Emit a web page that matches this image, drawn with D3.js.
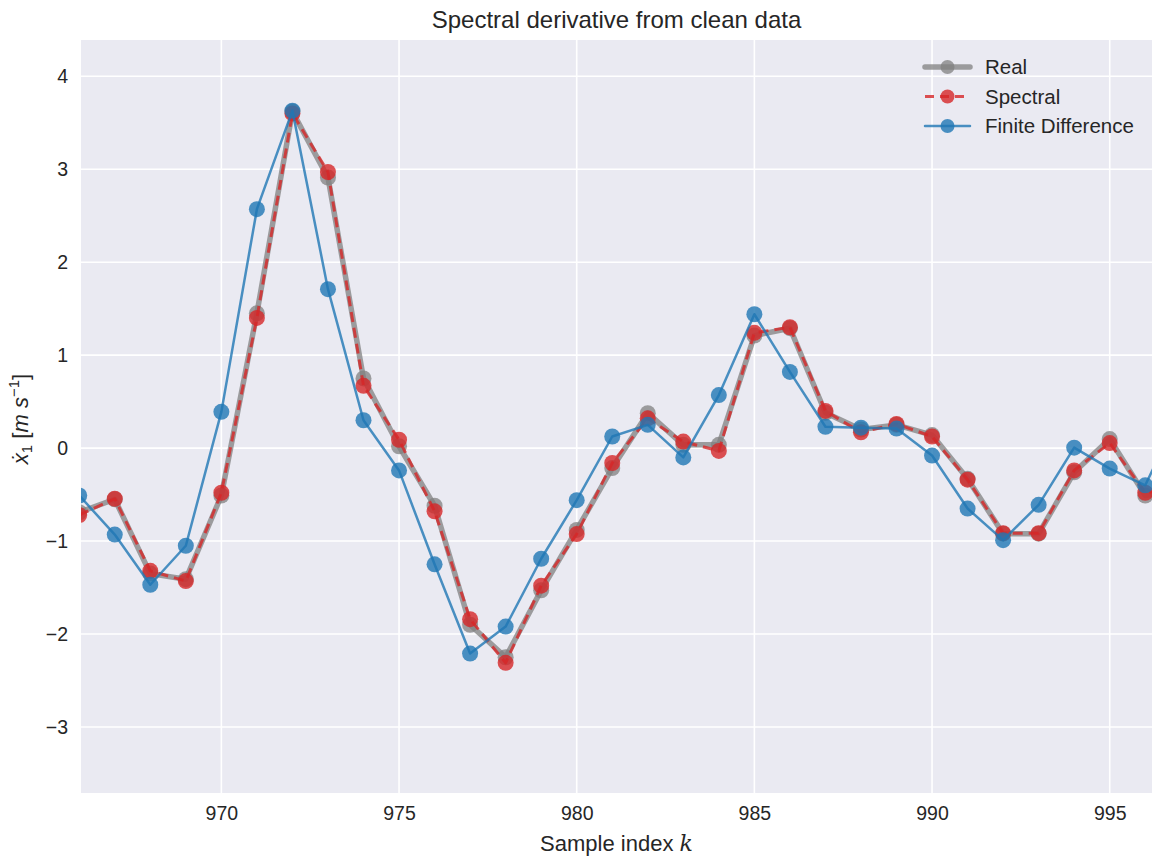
<!DOCTYPE html>
<html>
<head>
<meta charset="utf-8">
<script src="https://cdn.jsdelivr.net/npm/d3@7"></script>
<style>
  body { margin: 0; background: #fff; }
  text { font-family: "Liberation Sans", Arial, sans-serif; fill: #262626; }
</style>
</head>
<body>
<svg id="chart" width="1152" height="857"></svg>
<script>
const samples = d3.range(966, 998);
const realValues = [-0.69, -0.55, -1.35, -1.41, -0.51, 1.45, 3.62, 2.91, 0.75, 0.02,
  -0.62, -1.90, -2.25, -1.53, -0.88, -0.215, 0.376, 0.035, 0.035, 1.21,
  1.29, 0.38, 0.20, 0.25, 0.14, -0.33, -0.92, -0.92, -0.26, 0.097, -0.51, -0.45];
const spectralValues = [-0.72, -0.545, -1.32, -1.43, -0.48, 1.40, 3.60, 2.97, 0.67, 0.09,
  -0.68, -1.84, -2.31, -1.48, -0.925, -0.16, 0.32, 0.07, -0.03, 1.24,
  1.30, 0.40, 0.17, 0.26, 0.125, -0.34, -0.915, -0.915, -0.24, 0.054, -0.48, -0.43];
const finiteDiffValues = [-0.51, -0.93, -1.47, -1.05, 0.39, 2.57, 3.63, 1.71, 0.30, -0.24,
  -1.25, -2.21, -1.92, -1.19, -0.56, 0.125, 0.25, -0.10, 0.57, 1.44,
  0.82, 0.23, 0.22, 0.21, -0.08, -0.65, -0.99, -0.61, 0.005, -0.22, -0.40, 0.40];
const xTicks = [970, 975, 980, 985, 990, 995];
const yTicks = [-3, -2, -1, 0, 1, 2, 3, 4];

const margin = { top: 40, right: 0, bottom: 64, left: 81 };
const width = 1152 - margin.left - margin.right;
const height = 857 - margin.top - margin.bottom;

const svg = d3.select("#chart");
const g = svg.append("g").attr("transform", `translate(${margin.left},${margin.top})`);

const x = d3.scaleLinear().domain([966.05, 996.19]).range([0, width]);
const y = d3.scaleLinear().domain([-3.71, 4.39]).range([height, 0]);

g.append("rect").attr("width", width).attr("height", height).attr("fill", "#eaeaf2");

g.append("defs").append("clipPath").attr("id", "clip")
  .append("rect").attr("width", width).attr("height", height);

// grid
g.selectAll("line.vgrid").data(xTicks).join("line")
  .attr("x1", d => x(d)).attr("x2", d => x(d)).attr("y1", 0).attr("y2", height)
  .attr("stroke", "#fff").attr("stroke-width", 1.6);
g.selectAll("line.hgrid").data(yTicks).join("line")
  .attr("y1", d => y(d)).attr("y2", d => y(d)).attr("x1", 0).attr("x2", width)
  .attr("stroke", "#fff").attr("stroke-width", 1.6);

// axes
const xAxis = g.append("g").attr("transform", `translate(0,${height})`)
  .call(d3.axisBottom(x).tickValues(xTicks).tickSize(0).tickPadding(13).tickFormat(d3.format("d")));
const yAxis = g.append("g")
  .call(d3.axisLeft(y).tickValues(yTicks).tickSize(0).tickPadding(13).tickFormat(d => d < 0 ? "\u2212" + (-d) : d));
[xAxis, yAxis].forEach(a => {
  a.select(".domain").remove();
  a.selectAll("text").attr("font-size", 19.5).attr("fill", "#262626")
    .attr("font-family", "Liberation Sans, Arial, sans-serif");
});

const plot = g.append("g").attr("clip-path", "url(#clip)");

const series = [
  { name: "Real", values: realValues, color: "#808080", opacity: 0.75, width: 5.5, dash: null, r: 8 },
  { name: "Spectral", values: spectralValues, color: "#d62728", opacity: 0.8, width: 3, dash: "10,6", r: 8 },
  { name: "Finite Difference", values: finiteDiffValues, color: "#1f77b4", opacity: 0.8, width: 2.5, dash: null, r: 8 }
];

const line = d3.line().x(d => x(d[0])).y(d => y(d[1]));

series.forEach(s => {
  const pts = samples.map((k, i) => [k, s.values[i]]);
  const sg = plot.append("g").attr("opacity", s.opacity);
  sg.append("path").datum(pts).attr("d", line)
    .attr("fill", "none").attr("stroke", s.color).attr("stroke-width", s.width)
    .attr("stroke-dasharray", s.dash).attr("stroke-linejoin", "round");
  plot.selectAll(null).data(pts).join("circle")
    .attr("cx", d => x(d[0])).attr("cy", d => y(d[1])).attr("r", s.r)
    .attr("fill", s.color).attr("fill-opacity", s.opacity);
});

// legend
const legend = g.append("g").attr("transform", `translate(${925 - margin.left},${67 - margin.top})`);
series.forEach((s, i) => {
  const row = legend.append("g").attr("transform", `translate(0,${i * 29.5})`);
  row.append("line").attr("x1", 0).attr("x2", 45).attr("y1", 0).attr("y2", 0)
    .attr("stroke", s.color).attr("stroke-width", s.width).attr("stroke-opacity", s.opacity)
    .attr("stroke-dasharray", s.dash ? "9,6" : null).attr("stroke-linecap", s.dash ? "butt" : "round");
  row.append("circle").attr("cx", 22.5).attr("cy", 0).attr("r", 7)
    .attr("fill", s.color).attr("fill-opacity", s.opacity);
  row.append("text").attr("x", 60).attr("y", 7).attr("font-size", 20.5).text(s.name);
});

// title
svg.append("text").attr("x", margin.left + width / 2).attr("y", 28)
  .attr("text-anchor", "middle").attr("font-size", 24).text("Spectral derivative from clean data");

// x label
const xl = svg.append("text").attr("x", margin.left + width / 2).attr("y", 851)
  .attr("text-anchor", "middle").attr("font-size", 22);
xl.append("tspan").text("Sample index ");
xl.append("tspan").attr("font-family", "DejaVu Serif, serif").attr("font-style", "italic").text("k");

// y label
const yl = svg.append("text").attr("transform", "translate(28,419) rotate(-90)")
  .attr("text-anchor", "middle").attr("font-size", 22).attr("font-family", "DejaVu Serif, serif");
yl.append("tspan").attr("font-style", "italic").text("\u1E8B");
yl.append("tspan").attr("font-size", 15).attr("dy", 4).text("1");
yl.append("tspan").attr("dy", -4).text(" [");
yl.append("tspan").attr("font-style", "italic").text("m s");
yl.append("tspan").attr("font-size", 15).attr("dy", -9).text("\u22121");
yl.append("tspan").attr("dy", 9).text("]");
</script>
</body>
</html>
